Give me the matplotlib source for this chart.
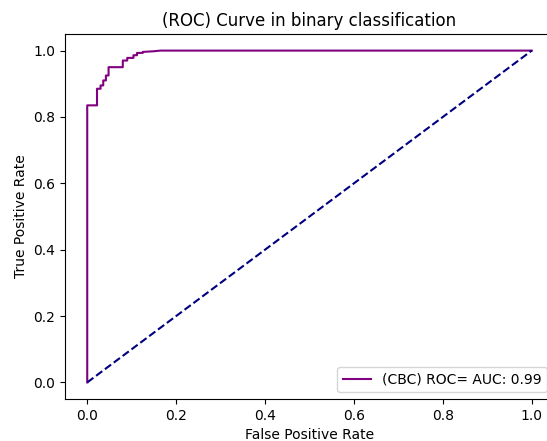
import matplotlib
matplotlib.use("Agg")
import matplotlib.pyplot as plt

# ROC curve points
fpr = [0.0, 0.0, 0.022, 0.022, 0.030, 0.030, 0.036, 0.036, 0.042, 0.042,
       0.048, 0.048, 0.080, 0.080, 0.090, 0.090, 0.104, 0.104, 0.112, 0.112,
       0.125, 0.125, 0.150, 0.165, 1.0]
tpr = [0.0, 0.835, 0.835, 0.885, 0.885, 0.895, 0.895, 0.910, 0.910, 0.925,
       0.925, 0.950, 0.950, 0.970, 0.970, 0.978, 0.978, 0.986, 0.986, 0.993,
       0.993, 0.996, 0.998, 1.0, 1.0]
chance = [0.0, 1.0]
roc_label = "(CBC) ROC= AUC: 0.99"

fig = plt.figure(figsize=(5.47, 4.41), dpi=100)
ax = fig.add_axes([65 / 547, 1 - 399 / 441, (554 - 65) / 547, (399 - 34) / 441])

ax.plot(fpr, tpr, color="purple", lw=1.5, label=roc_label)
ax.plot(chance, chance, color="navy", lw=1.5, linestyle="--")
ax.set_xlabel("False Positive Rate")
ax.set_ylabel("True Positive Rate")
ax.set_title("(ROC) Curve in binary classification")
ax.legend(loc="lower right")

fig.savefig("out.png", dpi=100)
